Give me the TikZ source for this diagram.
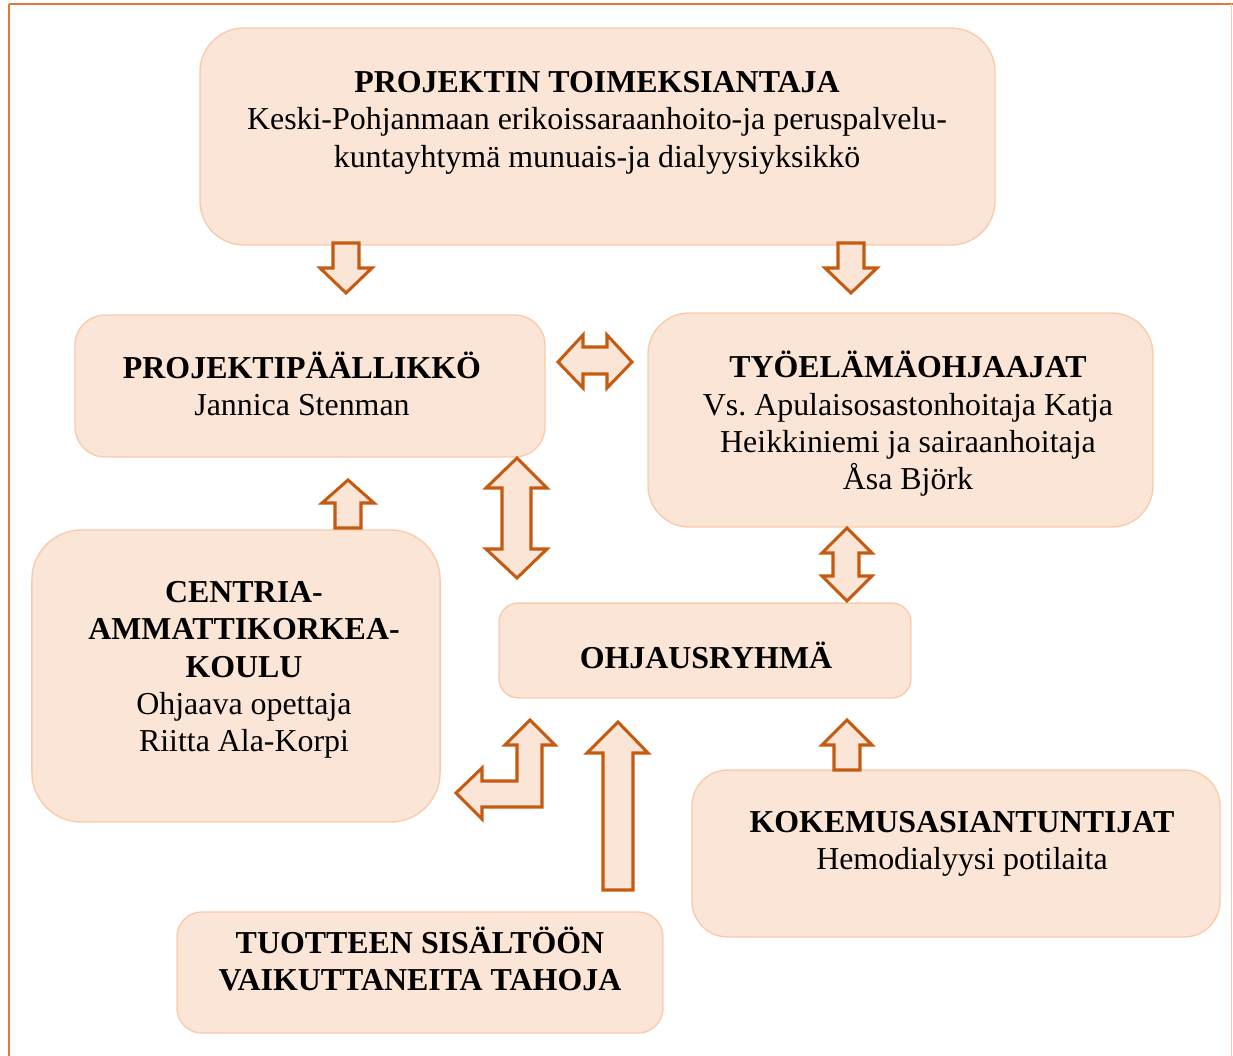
\documentclass[tikz,border=0pt]{standalone}
\usepackage{fontspec}
\setmainfont{Liberation Serif}
\usepackage{xcolor}
\definecolor{boxfill}{HTML}{FBE5D6}
\definecolor{boxline}{HTML}{F8CBAD}
\definecolor{arrowline}{HTML}{C55A11}
\definecolor{frameline}{HTML}{E07B3C}
\frenchspacing

\begin{document}
\begin{tikzpicture}[x=0.3636pt, y=-0.3636pt,
    box/.style={draw=boxline, fill=boxfill, line width=0.5pt, rectangle},
    txt/.style={align=center, font=\fontsize{11.6}{13.6}\selectfont, inner sep=0pt},
    blockarrow/.style={draw=arrowline, fill=boxfill, line width=1.1pt, line join=miter}]
    \useasboundingbox (0,0) rectangle (1233,1056);

    % Frame
    \draw[frameline, line width=0.8pt] (9,4) -- (1233,4);
    \draw[frameline, line width=0.8pt] (9,4) -- (9,1056);
    \draw[boxline, line width=0.3pt] (1231,4) -- (1231,1056);

    % Boxes
    \node[box, minimum width=289.1pt, minimum height=78.9pt, rounded corners=16pt] (toimeksiantaja) at (597.5,136.5) {};
    \node[box, minimum width=170.9pt, minimum height=51.6pt, rounded corners=11pt] (paallikko) at (310,386) {};
    \node[box, minimum width=183.6pt, minimum height=77.8pt, rounded corners=15pt] (ohjaajat) at (900.5,420) {};
    \node[box, minimum width=148.4pt, minimum height=106.2pt, rounded corners=18pt] (centria) at (236,676) {};
    \node[box, minimum width=149.8pt, minimum height=34.5pt, rounded corners=7pt] (ohjausryhma) at (705,650.5) {};
    \node[box, minimum width=192pt, minimum height=60.7pt, rounded corners=13pt] (kokemus) at (956,853.5) {};
    \node[box, minimum width=176.7pt, minimum height=44pt, rounded corners=9pt] (tahot) at (420,972.5) {};

    % Texts
    \node[txt] (toimeksiantajateksti) at (597,122.5) {\textbf{PROJEKTIN TOIMEKSIANTAJA}\\Keski-Pohjanmaan erikoissaraanhoito-ja peruspalvelu-\\kuntayhtymä munuais-ja dialyysiyksikkö};
    \node[txt] (paallikkoteksti) at (302,384) {\textbf{PROJEKTIPÄÄLLIKKÖ}\\Jannica Stenman};
    \node[txt] (ohjaajatteksti) at (908,424) {\textbf{TYÖELÄMÄOHJAAJAT}\\Vs. Apulaisosastonhoitaja Katja\\Heikkiniemi ja sairaanhoitaja\\Åsa Björk};
    \node[txt] (centriateksti) at (244,670) {\textbf{CENTRIA-}\\\textbf{AMMATTIKORKEA-}\\\textbf{KOULU}\\Ohjaava opettaja\\Riitta Ala-Korpi};
    \node[txt] (ohjausryhmateksti) at (706,655) {\textbf{OHJAUSRYHMÄ}};
    \node[txt] (kokemusteksti) at (962,844) {\textbf{KOKEMUSASIANTUNTIJAT}\\Hemodialyysi potilaita};
    \node[txt] (tahotteksti) at (420,959) {\textbf{TUOTTEEN SISÄLTÖÖN}\\\textbf{VAIKUTTANEITA TAHOJA}};

    % Arrows from the top box
    \filldraw[blockarrow] (333,243) -- (359,243) -- (359,268) -- (372,268) -- (346,293) -- (320,268) -- (333,268) -- cycle;
    \filldraw[blockarrow] (838,243) -- (864,243) -- (864,268) -- (877,268) -- (851,293) -- (825,268) -- (838,268) -- cycle;

    % Between project manager and supervisors
    \filldraw[blockarrow] (558,362) -- (583,335) -- (583,347) -- (607,347) -- (607,335) -- (632,362) -- (607,388) -- (607,374) -- (583,374) -- (583,388) -- cycle;

    % Project manager and steering group
    \filldraw[blockarrow] (517,458) -- (547,488) -- (531,488) -- (531,549) -- (547,549) -- (517,578) -- (486,549) -- (502,549) -- (502,488) -- (486,488) -- cycle;

    % Supervisors and steering group
    \filldraw[blockarrow] (847,528) -- (872,553) -- (859,553) -- (859,576) -- (872,576) -- (847,601) -- (822,576) -- (833,576) -- (833,553) -- (822,553) -- cycle;

    % Centria up to project manager
    \filldraw[blockarrow] (348,480) -- (374,503) -- (361,503) -- (361,528) -- (335,528) -- (335,503) -- (322,503) -- cycle;

    % Experts up to steering group
    \filldraw[blockarrow] (847,720) -- (872,745) -- (860,745) -- (860,770) -- (834,770) -- (834,745) -- (822,745) -- cycle;

    % Bent arrow
    \filldraw[blockarrow] (530,720) -- (555,745) -- (542,745) -- (542,807) -- (482,807) -- (482,819) -- (456,793) -- (482,768) -- (482,781) -- (517,781) -- (517,745) -- (505,745) -- cycle;

    % Long arrow up
    \filldraw[blockarrow] (618,722) -- (648,753) -- (633,753) -- (633,890) -- (603,890) -- (603,753) -- (587,753) -- cycle;
\end{tikzpicture}
\end{document}
